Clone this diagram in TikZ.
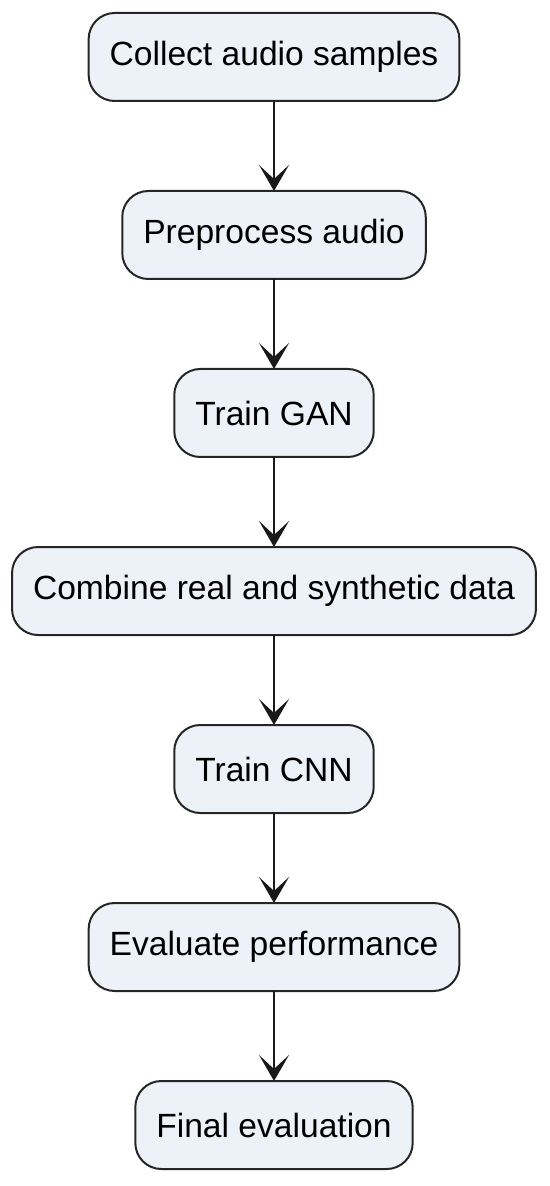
\documentclass[tikz,border=0pt]{standalone}
\usepackage{fontspec}
\setmainfont{Liberation Sans}
\usepackage{tikz}
\usetikzlibrary{arrows.meta, positioning}
\definecolor{boxfill}{HTML}{EDF2F9}
\tikzset{
  step_box/.style={rectangle, draw=black!85, fill=boxfill, line width=1pt, rounded corners=13pt, minimum height=44pt, inner xsep=10.5pt, outer sep=0pt, font=\fontsize{16.8}{20}\selectfont},
  arrow/.style={-{Stealth[length=13pt, width=15pt, inset=7pt]}, line width=1pt, black!90}
}
\begin{document}
\begin{tikzpicture}

      % --- Page frame ---
      \useasboundingbox (0,0) rectangle (275pt,-593pt);

      % --- Steps ---
      \node[step_box] (collect) at (137pt,-28.5pt) {Collect audio samples};
      \node[step_box, below=45pt of collect] (preprocess) {Preprocess audio};
      \node[step_box, below=45pt of preprocess] (gan) {Train GAN};
      \node[step_box, below=45pt of gan] (combine) {Combine real and synthetic data};
      \node[step_box, below=45pt of combine] (cnn) {Train CNN};
      \node[step_box, below=45pt of cnn] (evaluate) {Evaluate performance};
      \node[step_box, below=45pt of evaluate] (final) {Final evaluation};

      % --- Connections ---
      \foreach \a/\b in {collect/preprocess, preprocess/gan, gan/combine, combine/cnn, cnn/evaluate, evaluate/final} {
        \draw[arrow] (\a) -- (\b);
      }

\end{tikzpicture}
\end{document}
